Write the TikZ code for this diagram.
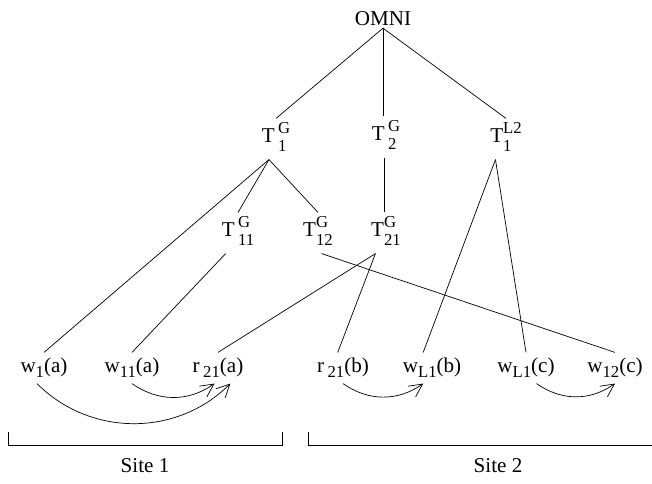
\documentclass[tikz,border=0pt]{standalone}
\usepackage{amsmath}
\usepackage{fontspec}
\setmainfont{Liberation Serif}
\usepackage{tikz}
\usetikzlibrary{arrows.meta, positioning}

% stacked super/subscript and lowered subscript, in text font
\newcommand{\supsub}[2]{{\fontsize{9.5}{10.5}\selectfont\begin{tabular}{@{}l@{}}#1\\#2\end{tabular}}}
\newcommand{\lsub}[1]{\raisebox{-0.55ex}{\fontsize{9.5}{10}\selectfont #1}}

\tikzset{
  tnode/.style={inner sep=1pt, font=\fontsize{12}{14}\selectfont},
  leaf/.style={inner sep=3pt, font=\fontsize{12}{14}\selectfont},
  sitelbl/.style={font=\fontsize{12}{14}\selectfont},
  arr/.style={-{Straight Barb[length=2.6mm, width=2.6mm]}},
}

\begin{document}
\begin{tikzpicture}
    \useasboundingbox (0,0) rectangle (13.04,9.66);

    % tree
    \node[tnode] (omni) at (7.66, 9.28) {OMNI};
    \node[tnode] (t1g)  at (5.52, 6.88) {T\,\supsub{G}{1}};
    \node[tnode] (t2g)  at (7.72, 6.92) {T\,\supsub{G}{2}};
    \node[tnode] (t1l2) at (10.12, 6.88) {T\supsub{L2}{1}};
    \node[tnode] (t11g) at (4.76, 5.00) {T\,\supsub{G}{11}};
    \node[tnode] (t12g) at (6.36, 5.00) {T\supsub{G}{12}};
    \node[tnode] (t21g) at (7.72, 5.00) {T\supsub{G}{21}};

    % operations
    \node[leaf] (w1a)  at (0.88, 2.30)  {w\lsub{1}(a)};
    \node[leaf] (w11a) at (2.64, 2.30)  {w\lsub{11}(a)};
    \node[leaf] (r21a) at (4.36, 2.30)  {r\,\lsub{21}(a)};
    \node[leaf] (r21b) at (6.86, 2.30)  {r\,\lsub{21}(b)};
    \node[leaf] (wl1b) at (8.64, 2.30)  {w\lsub{L1}(b)};
    \node[leaf] (wl1c) at (10.52, 2.30) {w\lsub{L1}(c)};
    \node[leaf] (w12c) at (12.30, 2.30) {w\lsub{12}(c)};

    \draw (omni.south) -- (t1g.north);
    \draw (omni.south) -- (omni.south |- t2g.north);
    \draw (omni.south) -- (t1l2.north);
    \draw ([xshift=-4pt]t1g.south) -- (w1a.north);
    \draw ([xshift=-4pt]t1g.south) -- (t11g.north);
    \draw ([xshift=-4pt]t1g.south) -- (t12g.north);
    \draw ([xshift=-1pt]t2g.south) -- ([xshift=-1pt]t21g.north);
    \draw ([xshift=-7pt]t11g.south) -- (w11a.north);
    \draw ([xshift=2pt]t12g.south) -- (w12c.north);
    \draw ([xshift=-6pt]t21g.south) -- (r21a.north);
    \draw ([xshift=-6pt]t21g.south) -- ([xshift=-3pt]r21b.north);
    \draw ([xshift=-6pt]t1l2.south) -- ([xshift=-5pt]wl1b.north);
    \draw ([xshift=-6pt]t1l2.south) -- (wl1c.north);

    % conflicts
    \draw[arr] ([xshift=-4pt]w1a.south) to[bend right=45] ([xshift=7pt]r21a.south);
    \draw[arr] (w11a.south) to[bend right=35] ([xshift=-2pt]r21a.south);
    \draw[arr] (r21b.south) to[bend right=35] ([xshift=-5pt]wl1b.south);
    \draw[arr] ([xshift=6pt]wl1c.south) to[bend right=35] (w12c.south);

    % sites
    \draw (0.16, 1.02) -- (0.16, 0.76) -- (5.64, 0.76) -- (5.64, 1.02);
    \draw (6.16, 1.02) -- (6.16, 0.76) -- (13.04, 0.76);
    \node[sitelbl] (site1) at (2.90, 0.34) {Site 1};
    \node[sitelbl] (site2) at (9.96, 0.34) {Site 2};
\end{tikzpicture}
\end{document}
